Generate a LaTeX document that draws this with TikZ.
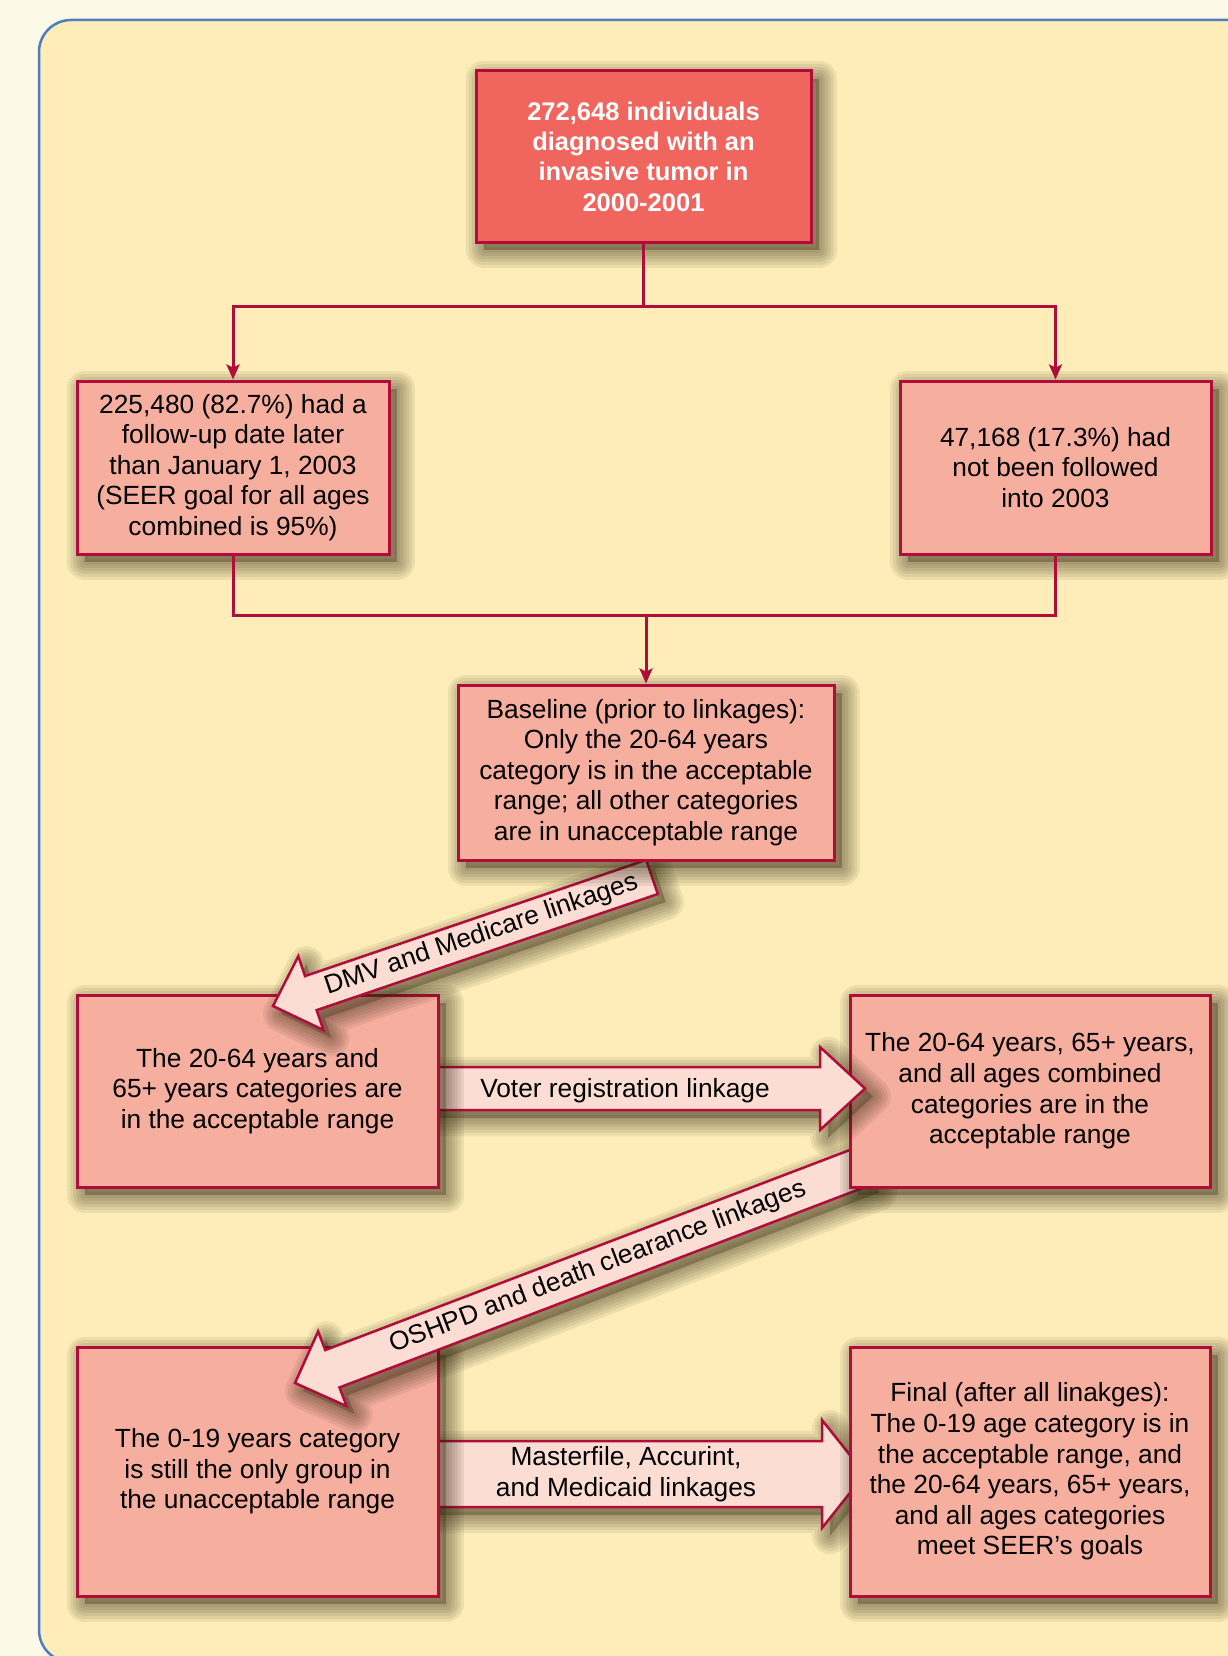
\documentclass[tikz,border=0pt]{standalone}
\usepackage{fontspec}
\setmainfont{Liberation Sans}
\usetikzlibrary{calc,arrows.meta}

\definecolor{pagebg}{HTML}{FDF9E7}
\definecolor{panelbg}{HTML}{FEEDB9}
\definecolor{panelline}{HTML}{4F7CC1}
\definecolor{crimson}{HTML}{B10D3A}
\definecolor{topfill}{HTML}{F0655E}
\definecolor{boxfill}{HTML}{F6AE9F}
\definecolor{arrowfill}{HTML}{FCDDD3}
\definecolor{shadowcol}{HTML}{2A2208}

\tikzset{
  shadowlayer/.style={preaction={draw=shadowcol, draw opacity=0.08, line width=#1, line join=round,
    transform canvas={xshift=8pt,yshift=-8pt}}},
  shadowed/.style={
    preaction={fill=shadowcol, fill opacity=0.3, draw=none, transform canvas={xshift=8pt,yshift=-8pt}},
    shadowlayer=36pt, shadowlayer=30pt, shadowlayer=24pt, shadowlayer=18pt, shadowlayer=12pt, shadowlayer=6pt},
  box/.style={draw=crimson, line width=3pt, fill=boxfill, align=center, inner sep=0pt,
    font=\fontsize{26.3}{30.6}\selectfont, shadowed},
  topbox/.style={box, fill=topfill, text=white, font=\fontsize{25.5}{30.3}\selectfont\bfseries},
  conn/.style={draw=crimson, line width=3pt},
  connarrow/.style={conn, -{Stealth[length=15pt,width=13pt,inset=3pt]}},
  fat/.style={draw=crimson, line width=2.5pt, fill=arrowfill, line join=miter, shadowed},
  fatlabel/.style={font=\fontsize{26.3}{30.6}\selectfont, align=center, inner sep=0pt},
}

% #1 tail coordinate, #2 tip coordinate, #3 half shaft width, #4 half head width, #5 head length
\newcommand\fatarrow[5]{%
  \coordinate (#1-c) at ($(#2)!#5!(#1)$);
  \path[fat] ($(#1)!#3!90:(#2)$) -- ($(#1-c)!#3!90:(#2)$) -- ($(#1-c)!#4!90:(#2)$)
    -- (#2) -- ($(#1-c)!#4!-90:(#2)$) -- ($(#1-c)!#3!-90:(#2)$) -- ($(#1)!#3!-90:(#2)$) -- cycle;
}

\begin{document}
\begin{tikzpicture}[x=1pt,y=-1pt]
\useasboundingbox (0,0) rectangle (1227,1656);
\fill[pagebg] (0,0) rectangle (1227,1656);
\draw[panelline, line width=2.5pt, fill=panelbg, rounded corners=32pt] (39,20) rectangle (1300,1662);

% arrow coordinates
\coordinate (mfA) at (430,1474);   \coordinate (mfB) at (865,1474);
\coordinate (osA) at (864,1166);   \coordinate (osB) at (295,1383);
\coordinate (voA) at (430,1088.5); \coordinate (voB) at (865,1088.5);
\coordinate (dmA) at (652,877);    \coordinate (dmB) at (273,1006);

% Masterfile arrow (beneath row 3 boxes)
\fatarrow{mfA}{mfB}{33pt}{54pt}{43pt}
\path (mfA) -- (mfA-c) node[midway, fatlabel] {Masterfile, Accurint,\\and Medicaid linkages};

\node[box, minimum width=361pt, minimum height=249pt] (l3) at (257.5,1471.5)
  {The 0-19 years category\\is still the only group in\\the unacceptable range};
\node[box, minimum width=360pt, minimum height=249pt] (r3) at (1030,1471.5)
  {Final (after all linakges):\\The 0-19 age category is in\\the acceptable range, and\\the 20-64 years, 65+ years,\\and all ages categories\\meet SEER’s goals};

% OSHPD arrow
\fatarrow{osA}{osB}{20pt}{40pt}{40pt}
\path (osA) -- (osA-c) node[midway, sloped, fatlabel] {OSHPD and death clearance linkages};

\node[box, minimum width=360pt, minimum height=192pt] (r2) at (1030,1091)
  {The 20-64 years, 65+ years,\\and all ages combined\\categories are in the\\acceptable range};

% Voter arrow
\fatarrow{voA}{voB}{21.5pt}{41.5pt}{45pt}
\path (voA) -- (voA-c) node[midway, fatlabel, yshift=-2pt] {Voter registration linkage};

\node[box, minimum width=361pt, minimum height=192pt] (l2) at (257.5,1091)
  {The 20-64 years and\\65+ years categories are\\in the acceptable range};

% DMV arrow
\fatarrow{dmA}{dmB}{18pt}{39pt}{40pt}
\path (dmA) -- (dmA-c) node[midway, sloped, fatlabel] {DMV and Medicare linkages};

\node[box, minimum width=376pt, minimum height=175pt] (base) at (646,772.5)
  {Baseline (prior to linkages):\\Only the 20-64 years\\category is in the acceptable\\range; all other categories\\are in unacceptable range};

\node[topbox, minimum width=335pt, minimum height=171pt] (top) at (643.5,156.5)
  {272,648 individuals\\diagnosed with an\\invasive tumor in\\2000-2001};
\node[box, minimum width=312pt, minimum height=173pt] (l1) at (233,467.5)
  {225,480 (82.7\%) had a\\follow-up date later\\than January 1, 2003\\(SEER goal for all ages\\combined is 95\%)};
\node[box, minimum width=311pt, minimum height=173pt] (r1) at (1055.5,467.5)
  {47,168 (17.3\%) had\\not been followed\\into 2003};

% connectors
\coordinate (split) at (643.5,306);
\coordinate (merge) at (646,615);
\draw[conn] (top.south) -- (split);
\draw[connarrow] (split) -| (l1.north);
\draw[connarrow] (split) -| (r1.north);
\draw[conn] (l1.south) |- (merge) -| (r1.south);
\draw[connarrow] (merge) -- (base.north);
\end{tikzpicture}
\end{document}
